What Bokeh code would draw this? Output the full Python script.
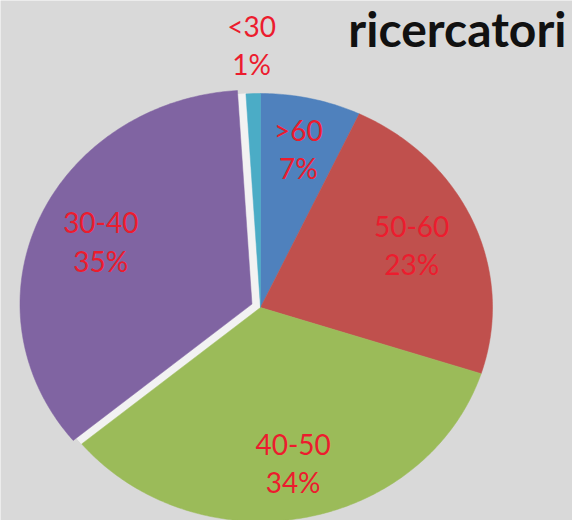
import numpy as np
from bokeh.plotting import figure
from bokeh.models import Range1d, ColumnDataSource
from bokeh.core.properties import value
from bokeh.embed import file_html
from bokeh.resources import INLINE

# ---------------- data ----------------
categories = [">60", "50-60", "40-50", "30-40", "<30"]
percent = [7, 23, 34, 35, 1]
colors = ["#4f81bd", "#c0504d", "#9bbb59", "#8064a2", "#4bacc6"]
title_text = "ricercatori"

# ---------------- layout (screen-like coordinates) ----------------
W, H = 572, 520
CX, CY, RX, RY = 260, 307, 232, 214
explode = [0, 0, 0, 0.04, 0]
label_r = [0.75, 0.71, 0.75, 0.71, 1.22]
LINE_GAP = 19
LABEL_SHIFT = -2
BG = "#d9d9d9"
LABEL_COLOR = "#ec1c2e"

vals = np.array(percent, dtype=float)
frac = vals / vals.sum()
ends = np.cumsum(frac) * 2 * np.pi
starts = ends - frac * 2 * np.pi
mids = (starts + ends) / 2


def slice_shape(i, ox, oy):
    t = np.linspace(starts[i], ends[i], max(4, int(frac[i] * 500)))
    px = CX + ox + RX * np.sin(t)
    py = CY + oy - RY * np.cos(t)
    return [CX + ox] + list(px), [CY + oy] + list(py)


xs, ys, gx, gy = [], [], [], []
lx, ly = [], []
for i in range(len(vals)):
    ox = explode[i] * RX * np.sin(mids[i])
    oy = -explode[i] * RY * np.cos(mids[i])
    sx, sy = slice_shape(i, ox, oy)
    xs.append(sx)
    ys.append(sy)
    if explode[i] > 0:
        bx, by = slice_shape(i, 0, 0)
        gx.append(bx)
        gy.append(by)
    lx.append(CX + ox + label_r[i] * RX * np.sin(mids[i]))
    ly.append(CY + oy - label_r[i] * RY * np.cos(mids[i]) + LABEL_SHIFT)

src = ColumnDataSource(dict(xs=xs, ys=ys, color=colors))
lab = ColumnDataSource(dict(
    x=lx,
    y1=[y - LINE_GAP for y in ly],
    y2=[y + LINE_GAP for y in ly],
    cat=categories,
    pct=[f"{v}%" for v in percent],
))

p = figure(width=W, height=H, output_backend="svg", toolbar_location=None,
           x_range=Range1d(0, W), y_range=Range1d(H, 0),
           min_border=0, min_border_left=0, min_border_right=0,
           min_border_top=0, min_border_bottom=0)
p.axis.visible = False
p.grid.visible = False
p.outline_line_color = None
p.background_fill_color = BG
p.border_fill_color = BG

if gx:
    p.patches(gx, gy, fill_color="#f2f2f2", line_color="#f2f2f2", line_width=1)
p.patches("xs", "ys", source=src, fill_color="color", line_color="color", line_width=0.5)

p.text("x", "y1", text="cat", source=lab, text_align="center", text_baseline="middle",
       text_font=value("Lato"), text_font_size="28px", text_color=LABEL_COLOR)
p.text("x", "y2", text="pct", source=lab, text_align="center", text_baseline="middle",
       text_font=value("Lato"), text_font_size="28px", text_color=LABEL_COLOR)

p.text(x=[566], y=[28], text=[title_text], text_align="right", text_baseline="middle",
       text_font=value("Lato"), text_font_style="bold", text_font_size="48px",
       text_color="#111111")

open("out.html", "w").write(file_html(p, INLINE))
